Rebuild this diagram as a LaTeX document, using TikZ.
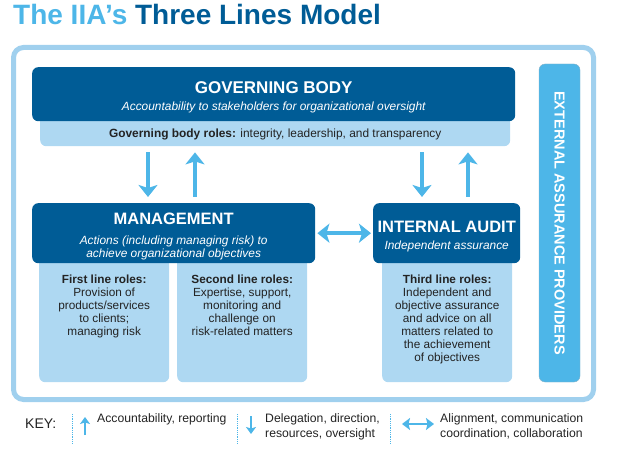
\documentclass[tikz,border=0pt]{standalone}
\usepackage{fontspec}
\setmainfont{Liberation Sans}
\usetikzlibrary{arrows.meta, positioning}
\definecolor{iiadark}{RGB}{0, 92, 150}
\definecolor{iialight}{RGB}{174, 216, 242}
\definecolor{iiamid}{RGB}{77, 182, 232}
\definecolor{iiaframe}{RGB}{160, 208, 238}
\definecolor{iiatext}{RGB}{35, 35, 35}

\tikzset{
  headbox/.style={fill=iiadark, rounded corners=6pt, text=white, align=center, inner sep=0pt, anchor=north west,
    font=\fontsize{11.9}{13.5}\selectfont},
  rolebox/.style={fill=iialight, rounded corners=6pt, inner sep=0pt, anchor=north west},
  roletext/.style={text=iiatext, align=center, inner sep=0pt, anchor=north, font=\fontsize{11.8}{13}\selectfont},
  flow/.style={draw=iiamid, line width=4.5pt, -{Stealth[length=12pt, width=19pt, inset=3pt]}, shorten <=6pt, shorten >=6pt},
  keyarrow/.style={draw=iiamid, line width=2pt, -{Stealth[length=7pt, width=10pt, inset=1.5pt]}},
  keytext/.style={text=iiatext, align=left, anchor=north west, inner sep=0pt, font=\fontsize{12.2}{15.5}\selectfont},
  keysep/.style={draw=iiamid, densely dotted, line width=0.8pt}
}
% heading line, with a strut that pushes the text block a little down
\newcommand{\headline}[2][16.5]{{\fontsize{#1}{19}\selectfont\bfseries\rule{0pt}{18.5pt}#2}}
\newcommand{\subline}[1]{{\itshape #1}}

\begin{document}
\begin{tikzpicture}[x=1pt, y=-1pt]
  \useasboundingbox (0,0) rectangle (624,462);

  % title
  \node[anchor=base west, inner sep=0pt, font=\fontsize{28}{30}\selectfont\bfseries] (title) at (13,25)
    {\textcolor{iiamid}{The IIA’s} \textcolor{iiadark}{Three Lines Model}};

  % outer frame
  \draw[iiaframe, line width=5pt, rounded corners=10pt] (13.5,47.5) rectangle (593.5,399.5);

  % light role boxes (behind)
  \node[rolebox, minimum width=470pt, minimum height=36pt] (gbroles) at (40,110) {};
  \node[rolebox, minimum width=130pt, minimum height=142pt] (first) at (39,240) {};
  \node[rolebox, minimum width=130pt, minimum height=142pt] (second) at (177,240) {};
  \node[rolebox, minimum width=130pt, minimum height=142pt] (third) at (382,240) {};

  % dark heading boxes
  \node[headbox, minimum width=483pt, minimum height=54pt] (gb) at (32,67)
    {\headline[17]{GOVERNING BODY}\\[4pt]
     \subline{Accountability to stakeholders for organizational oversight}};
  \node[headbox, minimum width=283pt, minimum height=60pt] (mgmt) at (32,203)
    {\headline{MANAGEMENT}\\[6pt]
     \subline{Actions (including managing risk) to}\\
     \subline{achieve organizational objectives}};
  \node[headbox, minimum width=147pt, minimum height=60pt] (ia) at (373,203)
    {\headline{INTERNAL AUDIT}\\[4pt]
     \subline{Independent assurance}};

  % external providers
  \node[fill=iiamid, rounded corners=6pt, draw=iiamid!70!black!60, line width=0.4pt,
        minimum width=318pt, minimum height=41pt, rotate=-90, text=white,
        font=\fontsize{14.5}{17}\selectfont\bfseries] (eap) at (559.5,223)
    {EXTERNAL ASSURANCE PROVIDERS};

  % role texts
  \node[text=iiatext, inner sep=0pt, anchor=base, font=\fontsize{11.9}{13}\selectfont] (gbtext) at ([yshift=-28pt]gbroles.north)
    {\textbf{Governing body roles:} integrity, leadership, and transparency};
  \node[roletext] (firsttext) at ([yshift=-35pt]first.north)
    {\textbf{First line roles:}\\Provision of\\products/services\\to clients;\\managing risk};
  \node[roletext] (secondtext) at ([yshift=-35pt]second.north)
    {\textbf{Second line roles:}\\Expertise, support,\\monitoring and\\challenge on\\risk-related matters};
  \node[roletext] (thirdtext) at ([yshift=-35pt]third.north)
    {\textbf{Third line roles:}\\Independent and\\objective assurance\\and advice on all\\matters related to\\the achievement\\of objectives};

  % arrows between bodies
  \coordinate (gbdown) at (148,0);
  \coordinate (mgup) at (195,0);
  \coordinate (iadown) at (422,0);
  \coordinate (iaup) at (468,0);
  \draw[flow] (gbroles.south -| gbdown) -- (mgmt.north -| gbdown);
  \draw[flow] (mgmt.north -| mgup) -- (gbroles.south -| mgup);
  \draw[flow] (gbroles.south -| iadown) -- (ia.north -| iadown);
  \draw[flow] (ia.north -| iaup) -- (gbroles.south -| iaup);
  \draw[flow, {Stealth[length=12pt, width=19pt, inset=3pt]}-{Stealth[length=12pt, width=19pt, inset=3pt]},
        shorten <=2pt, shorten >=2pt] (mgmt.east) -- (ia.west);

  % key
  \node[anchor=west, inner sep=0pt, text=iiatext, font=\fontsize{14}{16}\selectfont] (key) at (25,424) {KEY:};
  \coordinate (sepA) at (72,414);
  \coordinate (sepB) at (237,414);
  \coordinate (sepC) at (390,414);
  \draw[keysep] (sepA) -- ++(0,29);
  \draw[keysep] (sepB) -- ++(0,29);
  \draw[keysep] (sepC) -- ++(0,29);
  \coordinate (keyup) at (85,435);
  \coordinate (keydown) at (251,416);
  \coordinate (keyleft) at (402,424);
  \coordinate (keyright) at (434,424);
  \draw[keyarrow] (keyup) -- ++(0,-18);
  \draw[keyarrow] (keydown) -- ++(0,18);
  \draw[keyarrow, line width=2.5pt, {Stealth[length=8pt, width=12pt, inset=1.5pt]}-{Stealth[length=8pt, width=12pt, inset=1.5pt]}] (keyleft) -- (keyright);
  \node[keytext] (keyacc) at (97,413) {Accountability, reporting};
  \node[keytext] (keydel) at (265,413) {Delegation, direction,\\resources, oversight};
  \node[keytext] (keyali) at (440,413) {Alignment, communication\\coordination, collaboration};
\end{tikzpicture}
\end{document}
